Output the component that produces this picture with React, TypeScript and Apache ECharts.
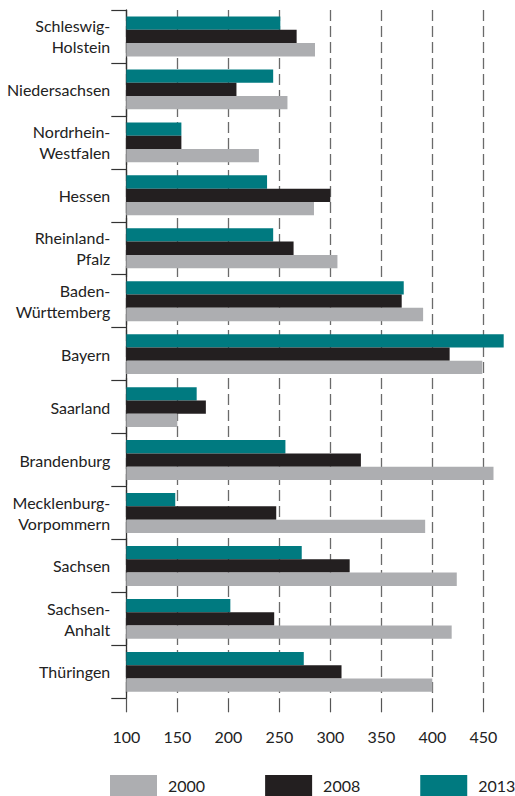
import React, { useEffect, useRef } from "react";
import * as echarts from "echarts";

const categories = [
  "Schleswig-\nHolstein",
  "Niedersachsen",
  "Nordrhein-\nWestfalen",
  "Hessen",
  "Rheinland-\nPfalz",
  "Baden-\nWürttemberg",
  "Bayern",
  "Saarland",
  "Brandenburg",
  "Mecklenburg-\nVorpommern",
  "Sachsen",
  "Sachsen-\nAnhalt",
  "Thüringen",
];

const values2000 = [285, 258, 230, 284, 307, 391, 449, 150, 460, 393, 424, 419, 400];
const values2008 = [267, 208, 154, 300, 264, 370, 417, 178, 330, 247, 319, 245, 311];
const values2013 = [251, 244, 154, 238, 244, 372, 470, 169, 256, 148, 272, 202, 274];

const seriesNames = ["2000", "2008", "2013"];
const seriesColors = ["#adaeb1", "#231f20", "#007a80"];
const xTicks = { min: 100, max: 450, interval: 50 };
const dataMax = 472;

const FONT = "Lato, 'Noto Sans', sans-serif";

export default function App() {
  const ref = useRef<HTMLDivElement>(null);
  useEffect(() => {
    if (!ref.current) return;
    const chart = echarts.init(ref.current, undefined, { renderer: "svg" });
    const pxPerUnit = 1.02;
    const left = 126.3;
    const top = 10;
    const height = 688.3;
    const allValues = [values2000, values2008, values2013];
    // draw order top-to-bottom within a band: 2013, 2008, 2000
    const order = [2, 1, 0];
    chart.setOption({
      animation: false,
      textStyle: { fontFamily: FONT },
      grid: [
        { left, top, width: (dataMax - xTicks.min) * pxPerUnit, height },
        { left, top, width: (xTicks.max - xTicks.min) * pxPerUnit, height },
      ],
      legend: {
        data: seriesNames,
        left: 110,
        top: 775,
        width: 500,
        padding: 0,
        icon: "rect",
        itemWidth: 47,
        itemHeight: 21,
        itemGap: 60,
        textStyle: { fontSize: 16, color: "#222", fontFamily: FONT, padding: [0, 0, 0, 6] },
      },
      xAxis: [
        { gridIndex: 0, type: "value", min: xTicks.min, max: dataMax, show: false },
        {
          gridIndex: 1,
          type: "value",
          min: xTicks.min,
          max: xTicks.max,
          interval: xTicks.interval,
          axisLine: { show: false },
          axisTick: { show: true, length: 14, lineStyle: { color: "#555", width: 1.2 } },
          axisLabel: { margin: 30, fontSize: 16, color: "#222", fontFamily: FONT },
          splitLine: {
            show: true,
            lineStyle: { color: "#6a6a6a", width: 1.3, type: [11, 5] },
          },
        },
      ],
      yAxis: [
        {
          gridIndex: 0,
          type: "category",
          inverse: true,
          data: categories,
          axisLine: { show: true, lineStyle: { color: "#333", width: 1.3 } },
          axisTick: { show: true, length: 15, lineStyle: { color: "#333", width: 1.2 } },
          axisLabel: {
            margin: 16,
            fontSize: 16,
            lineHeight: 21,
            color: "#222",
            fontFamily: FONT,
            align: "right",
          },
        },
        { gridIndex: 1, type: "category", inverse: true, data: categories, show: false },
      ],
      series: order.map((i) => ({
        name: seriesNames[i],
        type: "bar",
        xAxisIndex: 0,
        yAxisIndex: 0,
        data: allValues[i],
        barWidth: 13.3,
        barGap: "0%",
        itemStyle: { color: seriesColors[i] },
      })),
    });
    return () => chart.dispose();
  }, []);
  return (
    <div
      ref={ref}
      style={{ position: "absolute", left: 0, top: 0, width: 515, height: 796 }}
    />
  );
}
